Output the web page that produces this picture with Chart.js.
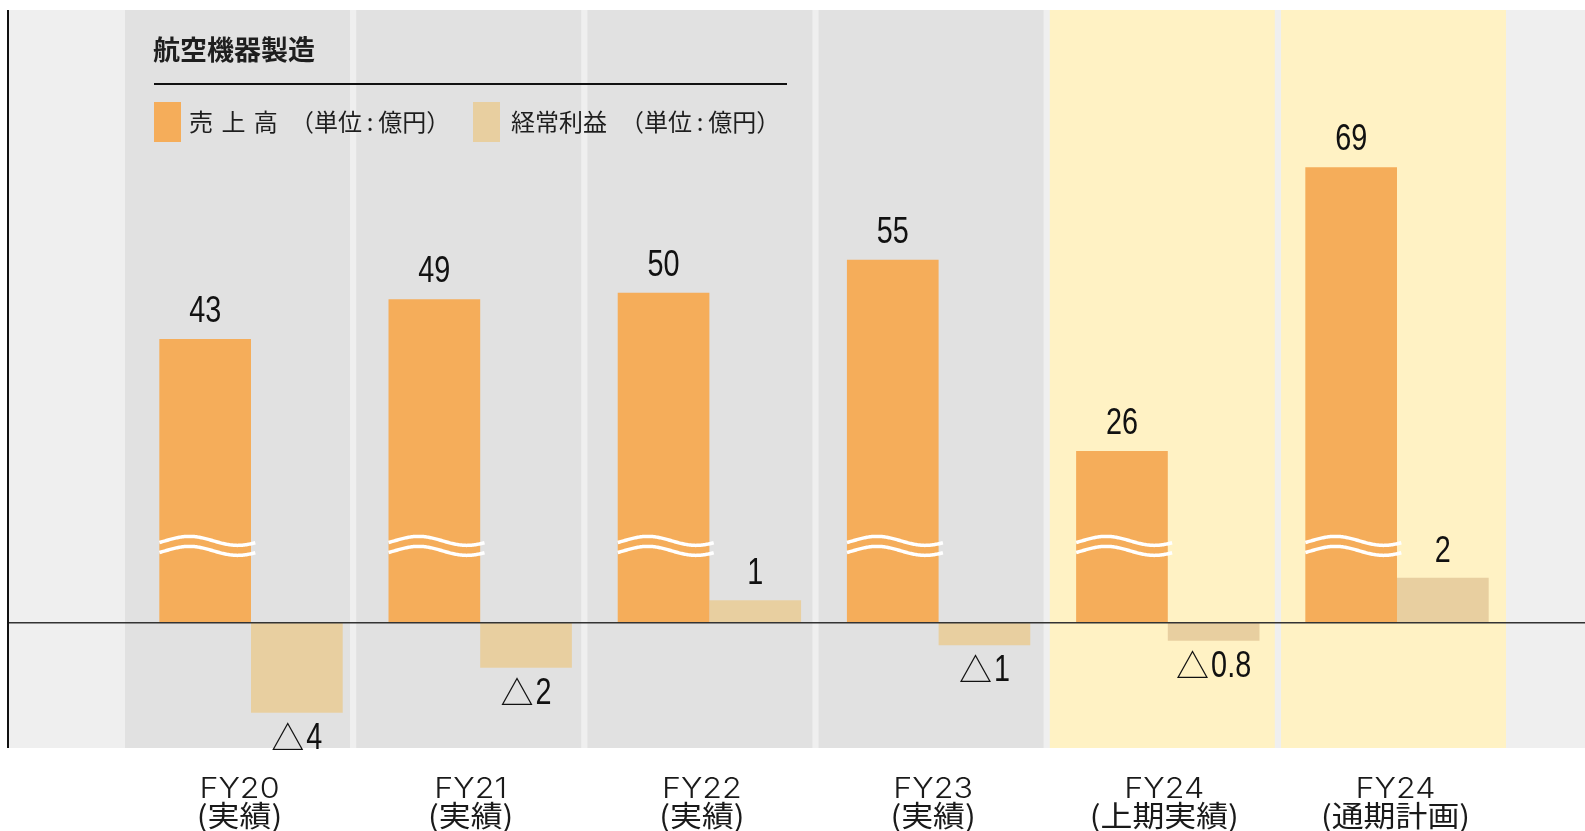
<!DOCTYPE html>
<html lang="ja">
<head>
<meta charset="utf-8">
<title>航空機器製造</title>
<script src="https://cdn.jsdelivr.net/npm/chart.js@4.4.1/dist/chart.umd.min.js"></script>
<style>
  html, body { margin: 0; padding: 0; background: #fff; }
  #wrap { position: relative; width: 1585px; height: 831px; overflow: hidden; }
  #wrap canvas { position: absolute; left: 0; top: 0; }
  .txt { position: absolute; font-family: "Noto Sans CJK JP", sans-serif; color: #1e1e1e; white-space: nowrap; }
  .title { left: 153px; top: 35px; font-size: 27px; line-height: 27px; font-weight: bold; }
  .rule { position: absolute; left: 154px; top: 83px; width: 633px; height: 1.5px; background: #111; }
  .swatch { position: absolute; top: 102px; width: 27px; height: 40px; }
  .leg { top: 109px; font-size: 24px; line-height: 24px; word-spacing: 3px; }
</style>
</head>
<body>
<div id="wrap">
  <canvas id="chart" width="1585" height="831"></canvas>
  <div class="txt title">航空機器製造</div>
  <div class="rule"></div>
  <div id="legend"></div>
</div>
<script>
// 航空機器製造 — 売上高 / 経常利益（億円）
const categories = ["FY20", "FY21", "FY22", "FY23", "FY24", "FY24"];
const periods = ["(実績)", "(実績)", "(実績)", "(実績)", "(上期実績)", "(通期計画)"];
const sales = [43, 49, 50, 55, 26, 69];
const profit = [-4, -2, 1, -1, -0.8, 2];
const seriesNames = ["売 上 高", "経常利益"];
const unitLabel = "（単位\u2009:\u2009億円）";

// 色
const SALES_COLOR = "#f5ad5a";
const PROFIT_COLOR = "#e8cfa0";
const PANEL = "#efefef";
const columnFills = ["#e1e1e1", "#e1e1e1", "#e1e1e1", "#e1e1e1", "#fff2c4", "#fff2c4"];

// 凡例（HTML）
const legendSpots = [
  { swatch: 154, name: 189, unit: 290 },
  { swatch: 473, name: 511, unit: 620 }
];
const legendEl = document.getElementById("legend");
[SALES_COLOR, PROFIT_COLOR].forEach((col, i) => {
  const p = legendSpots[i];
  legendEl.insertAdjacentHTML("beforeend",
    `<div class="swatch" style="left:${p.swatch}px;background:${col}"></div>
     <div class="txt leg" style="left:${p.name}px">${seriesNames[i]}</div>
     <div class="txt leg" style="left:${p.unit}px">${unitLabel}</div>`);
});

// 背景の列は棒の組より少し左寄り
function colCenter(x, i) {
  return x.getPixelForValue(i) - 13.5 + 2 * i;
}

// 数字は縦長（横 0.8 倍）、マイナスは △ 表記
const NUM_FONT = '36px "Liberation Sans", "Noto Sans CJK JP"';
const TRI_FONT = '33px "Noto Sans CJK JP"';
const NUM_SX = 0.8;
function drawValue(ctx, v, cx, y) {
  const num = String(Math.abs(v));
  ctx.font = NUM_FONT;
  const wNum = ctx.measureText(num).width * NUM_SX;
  let wTri = 0;
  if (v < 0) {
    ctx.font = TRI_FONT;
    wTri = ctx.measureText("△").width + 2;
  }
  let left = cx - (wTri + wNum) / 2;
  ctx.textAlign = "left";
  if (v < 0) {
    ctx.font = TRI_FONT;
    ctx.fillText("△", left, y + 1);
    left += wTri;
  }
  ctx.save();
  ctx.translate(left, y);
  ctx.scale(NUM_SX, 1);
  ctx.font = NUM_FONT;
  ctx.fillText(num, 0, 0);
  ctx.restore();
}

function wave(ctx, left, right, yc) {
  const L = right - left;
  ctx.beginPath();
  for (let px = left; px <= right; px += 1) {
    const t = (px - left) / L;
    const y = yc - 4.5 * Math.sin(2 * Math.PI * (t - 0.06));
    if (px === left) ctx.moveTo(px, y); else ctx.lineTo(px, y);
  }
  ctx.stroke();
}

const decor = {
  id: "decor",
  beforeDatasetsDraw(chart) {
    const { ctx, chartArea, scales: { x } } = chart;
    const h = chartArea.bottom - chartArea.top;
    ctx.save();
    ctx.fillStyle = PANEL;
    ctx.fillRect(8, chartArea.top, chart.width - 8, h);
    categories.forEach((c, i) => {
      ctx.fillStyle = columnFills[i];
      ctx.fillRect(colCenter(x, i) - 112.5, chartArea.top, 225, h);
    });
    ctx.restore();
  },
  afterDatasetsDraw(chart) {
    const { ctx, chartArea, scales: { x, ySales } } = chart;
    const salesMeta = chart.getDatasetMeta(0);
    const profitMeta = chart.getDatasetMeta(1);
    ctx.save();

    // 省略記号（≈）
    ctx.strokeStyle = "#fff";
    ctx.lineWidth = 3.5;
    const yBreak = ySales.getPixelForValue(12.4);
    salesMeta.data.forEach(bar => {
      const l = bar.x - bar.width / 2;
      const r = bar.x + bar.width / 2 + 5;
      wave(ctx, l, r, yBreak);
      wave(ctx, l, r, yBreak + 10);
    });

    // ゼロ線と縦軸
    const y0 = ySales.getPixelForValue(0);
    ctx.strokeStyle = "#333";
    ctx.lineWidth = 1.5;
    ctx.beginPath();
    ctx.moveTo(8, y0);
    ctx.lineTo(chart.width, y0);
    ctx.stroke();
    ctx.strokeStyle = "#111";
    ctx.lineWidth = 2;
    ctx.beginPath();
    ctx.moveTo(8, chartArea.top);
    ctx.lineTo(8, chartArea.bottom);
    ctx.stroke();

    // 数値ラベル
    ctx.fillStyle = "#111";
    ctx.textBaseline = "alphabetic";
    salesMeta.data.forEach((bar, i) => {
      drawValue(ctx, sales[i], bar.x, bar.y - 17);
    });
    profitMeta.data.forEach((bar, i) => {
      const v = profit[i];
      drawValue(ctx, v, bar.x, v < 0 ? bar.y + 36 : bar.y - 16);
    });

    // 横軸ラベル
    ctx.fillStyle = "#1a1a1a";
    ctx.textAlign = "center";
    categories.forEach((c, i) => {
      const cx = colCenter(x, i) + 2;
      ctx.save();
      ctx.translate(cx, 798);
      ctx.scale(1.15, 1);
      ctx.font = '300 28px Inter, "Liberation Sans"';
      ctx.fillText(c, 0, 0);
      ctx.restore();
      ctx.save();
      ctx.translate(cx, 827);
      ctx.scale(1.1, 1);
      ctx.font = '29px "Noto Sans CJK JP"';
      ctx.fillText(periods[i], 0, 0);
      ctx.restore();
    });
    ctx.restore();
  }
};

new Chart(document.getElementById("chart"), {
  type: "bar",
  data: {
    labels: categories.map((c, i) => [c, periods[i]]),
    datasets: [
      {
        label: seriesNames[0],
        data: sales,
        backgroundColor: SALES_COLOR,
        borderWidth: 0,
        yAxisID: "ySales",
        categoryPercentage: 0.8,
        barPercentage: 1.0
      },
      {
        label: seriesNames[1],
        data: profit,
        backgroundColor: PROFIT_COLOR,
        borderWidth: 0,
        yAxisID: "yProfit",
        categoryPercentage: 0.8,
        barPercentage: 1.0
      }
    ]
  },
  options: {
    responsive: false,
    animation: false,
    layout: { padding: { left: 136.4, right: 73.4, top: 10, bottom: 83 } },
    plugins: {
      legend: { display: false },
      tooltip: { enabled: false }
    },
    scales: {
      x: { display: false },
      ySales: { display: false, position: "left", min: -18.98, max: 92.83 },
      yProfit: { display: false, position: "right", min: -5.569, max: 27.23 }
    }
  },
  plugins: [decor]
});
</script>
</body>
</html>
